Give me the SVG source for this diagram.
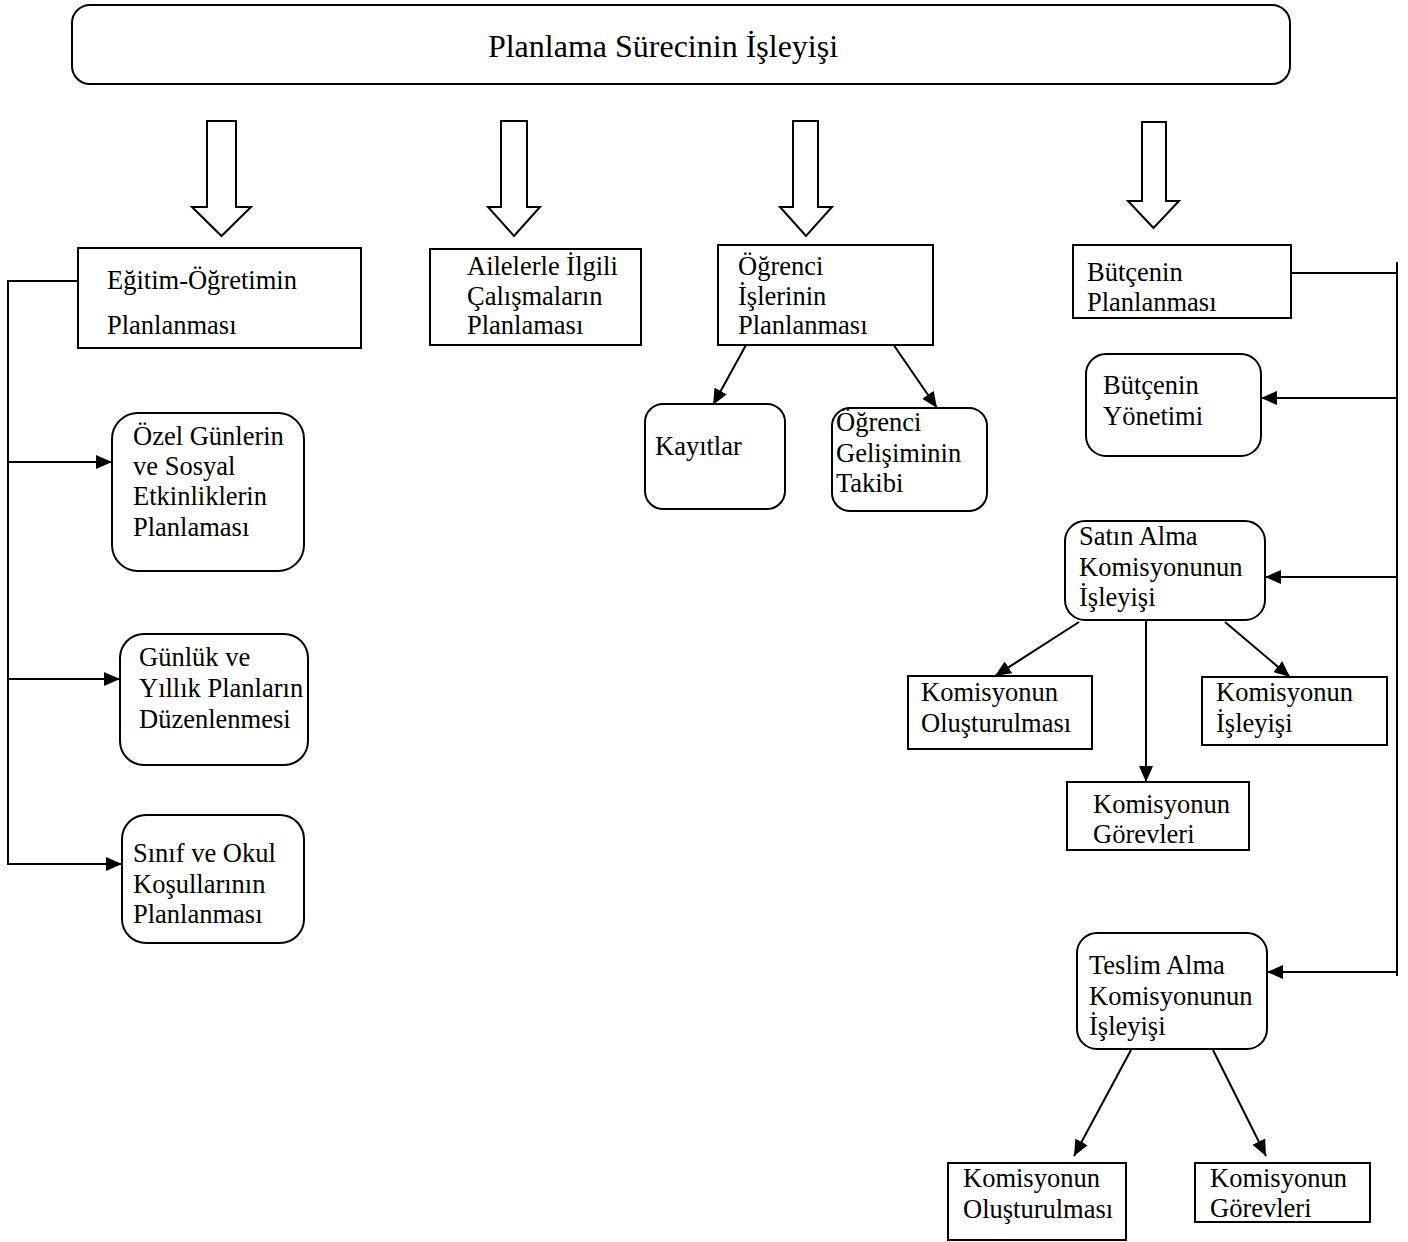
<svg xmlns="http://www.w3.org/2000/svg" width="1408" height="1242" viewBox="0 0 1408 1242">
  <style>
    .box { fill: #fff; stroke: #000; stroke-width: 2; }
    .block { fill: #fff; stroke: #000; stroke-width: 2; stroke-linejoin: miter; }
    .link { fill: none; stroke: #000; stroke-width: 2; }
    .arr { marker-end: url(#head); }
    text { font-family: "Liberation Serif", "Times New Roman", serif; font-size: 26.5px; fill: #000; }
    .title { font-size: 32px; }
  </style>
  <defs>
    <marker id="head" viewBox="0 0 16 14" refX="16" refY="7" markerWidth="16" markerHeight="14" markerUnits="userSpaceOnUse" orient="auto">
      <path d="M0,0 L16,7 L0,14 Z" fill="#000"/>
    </marker>
  </defs>

  <rect width="1408" height="1242" fill="#fff"/>

  <!-- header -->
  <g id="header">
    <rect class="box" x="72" y="5" width="1218" height="79" rx="18"/>
    <text class="title" x="663" y="57" text-anchor="middle">Planlama Sürecinin İşleyişi</text>
  </g>

  <!-- hollow block arrows from the header -->
  <g id="block-arrows">
    <path class="block" d="M207,121 H236 V207 H251 L221.5,236 L192,207 H207 Z"/>
    <path class="block" d="M501,121 H527 V207 H540 L514,236 L488,207 H501 Z"/>
    <path class="block" d="M793,121 H818 V207 H832 L806,236 L780,207 H793 Z"/>
    <path class="block" d="M1142,122 H1166 V201 H1179 L1153.5,228 L1128,201 H1142 Z"/>
  </g>

  <!-- connectors -->
  <g id="connectors">
    <!-- left branch -->
    <path class="link" d="M78,281 H8 V865"/>
    <line class="link arr" x1="8" y1="462" x2="112" y2="462"/>
    <line class="link arr" x1="8" y1="679" x2="120" y2="679"/>
    <line class="link arr" x1="8" y1="864" x2="122" y2="864"/>
    <!-- student affairs -->
    <line class="link arr" x1="746" y1="345" x2="713" y2="405"/>
    <line class="link arr" x1="893" y1="344" x2="937" y2="408"/>
    <!-- budget branch -->
    <path class="link" d="M1291,273 H1397"/>
    <line class="link" x1="1397" y1="262" x2="1397" y2="976"/>
    <line class="link arr" x1="1397" y1="398" x2="1261" y2="398"/>
    <line class="link arr" x1="1397" y1="577" x2="1265" y2="577"/>
    <line class="link arr" x1="1397" y1="972" x2="1267" y2="972"/>
    <!-- purchasing commission -->
    <line class="link arr" x1="1079" y1="622" x2="995" y2="676"/>
    <line class="link arr" x1="1146" y1="620" x2="1146" y2="782"/>
    <line class="link arr" x1="1225" y1="622" x2="1290" y2="677"/>
    <!-- acceptance commission -->
    <line class="link arr" x1="1131" y1="1050" x2="1074" y2="1156"/>
    <line class="link arr" x1="1213" y1="1050" x2="1266" y2="1156"/>
  </g>

  <!-- nodes -->
  <g id="egitim">
    <rect class="box" x="78" y="248" width="283" height="100"/>
    <text x="107" y="289">Eğitim-Öğretimin</text>
    <text x="107" y="334">Planlanması</text>
  </g>
  <g id="aileler">
    <rect class="box" x="430" y="249" width="211" height="96"/>
    <text x="467" y="275">Ailelerle İlgili</text>
    <text x="467" y="305">Çalışmaların</text>
    <text x="467" y="334">Planlaması</text>
  </g>
  <g id="ogrenci-isleri">
    <rect class="box" x="718" y="245" width="215" height="100"/>
    <text x="738" y="275">Öğrenci</text>
    <text x="738" y="305">İşlerinin</text>
    <text x="738" y="334">Planlanması</text>
  </g>
  <g id="butce-plan">
    <rect class="box" x="1073" y="245" width="218" height="73"/>
    <text x="1087" y="281">Bütçenin</text>
    <text x="1087" y="311">Planlanması</text>
  </g>

  <g id="ozel-gunler">
    <rect class="box" x="112" y="413" width="192" height="158" rx="26"/>
    <text x="133" y="445">Özel Günlerin</text>
    <text x="133" y="475">ve Sosyal</text>
    <text x="133" y="505">Etkinliklerin</text>
    <text x="133" y="536">Planlaması</text>
  </g>
  <g id="gunluk-yillik">
    <rect class="box" x="120" y="634" width="188" height="131" rx="24"/>
    <text x="139" y="666">Günlük ve</text>
    <text x="139" y="697">Yıllık Planların</text>
    <text x="139" y="728">Düzenlenmesi</text>
  </g>
  <g id="sinif-okul">
    <rect class="box" x="122" y="815" width="182" height="128" rx="24"/>
    <text x="133" y="862">Sınıf ve Okul</text>
    <text x="133" y="893">Koşullarının</text>
    <text x="133" y="923">Planlanması</text>
  </g>

  <g id="kayitlar">
    <rect class="box" x="645" y="404" width="140" height="105" rx="18"/>
    <text x="655" y="455">Kayıtlar</text>
  </g>
  <g id="gelisim">
    <rect class="box" x="832" y="408" width="155" height="103" rx="18"/>
    <text x="836" y="431">Öğrenci</text>
    <text x="836" y="462">Gelişiminin</text>
    <text x="836" y="492">Takibi</text>
  </g>

  <g id="butce-yonetim">
    <rect class="box" x="1086" y="354" width="175" height="102" rx="20"/>
    <text x="1103" y="394">Bütçenin</text>
    <text x="1103" y="425">Yönetimi</text>
  </g>
  <g id="satin-alma">
    <rect class="box" x="1065" y="521" width="200" height="99" rx="20"/>
    <text x="1079" y="545">Satın Alma</text>
    <text x="1079" y="576">Komisyonunun</text>
    <text x="1079" y="606">İşleyişi</text>
  </g>
  <g id="sa-olusturma">
    <rect class="box" x="908" y="676" width="184" height="73"/>
    <text x="921" y="701">Komisyonun</text>
    <text x="921" y="732">Oluşturulması</text>
  </g>
  <g id="sa-gorevler">
    <rect class="box" x="1067" y="782" width="182" height="68"/>
    <text x="1093" y="813">Komisyonun</text>
    <text x="1093" y="843">Görevleri</text>
  </g>
  <g id="sa-isleyis">
    <rect class="box" x="1202" y="677" width="185" height="68"/>
    <text x="1216" y="701">Komisyonun</text>
    <text x="1216" y="732">İşleyişi</text>
  </g>

  <g id="teslim-alma">
    <rect class="box" x="1077" y="933" width="190" height="116" rx="20"/>
    <text x="1089" y="974">Teslim Alma</text>
    <text x="1089" y="1005">Komisyonunun</text>
    <text x="1089" y="1035">İşleyişi</text>
  </g>
  <g id="ta-olusturma">
    <rect class="box" x="948" y="1163" width="178" height="77"/>
    <text x="963" y="1187">Komisyonun</text>
    <text x="963" y="1218">Oluşturulması</text>
  </g>
  <g id="ta-gorevler">
    <rect class="box" x="1195" y="1163" width="175" height="59"/>
    <text x="1210" y="1187">Komisyonun</text>
    <text x="1210" y="1217">Görevleri</text>
  </g>
</svg>
